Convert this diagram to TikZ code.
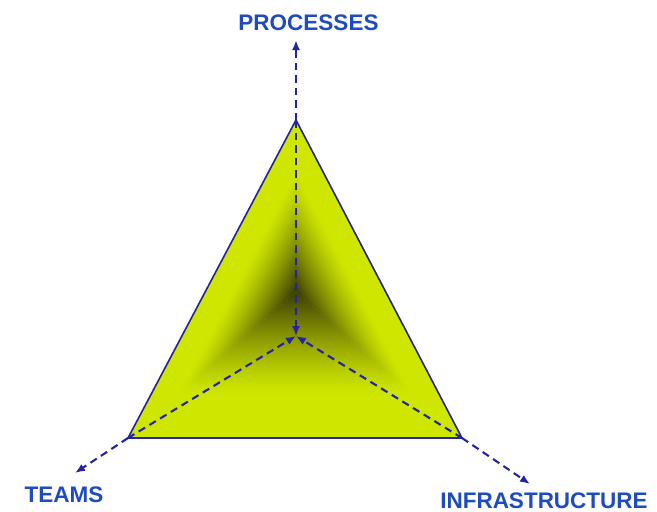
\documentclass[tikz,border=0pt]{standalone}
\usepackage{fontspec}
\setmainfont{Liberation Sans}
\usetikzlibrary{arrows.meta,calc}
\definecolor{bright}{RGB}{206,230,0}
\definecolor{darko}{RGB}{45,45,5}
\definecolor{lineblue}{RGB}{35,35,165}
\definecolor{textblue}{RGB}{30,75,190}
\begin{document}
\begin{tikzpicture}[x=1pt,y=-1pt,
  axisline/.style={lineblue, line width=2.1pt, dash pattern=on 7.5pt off 5pt, -{Latex[length=10pt,width=8pt]}},
  edgeline/.style={lineblue, line width=1.6pt, line join=miter},
  lbl/.style={text=textblue, font=\fontsize{22.5}{23}\selectfont\bfseries, inner sep=0pt, text height=16pt, text depth=0pt}]
\useasboundingbox (0,0) rectangle (657,512);
% vertices and points
\coordinate (T) at (296,120);
\coordinate (L) at (128,438);
\coordinate (R) at (462,438);
\coordinate (C) at (296,336);
\coordinate (P) at (296,292);
\coordinate (Tend) at (296,40);
\coordinate (Lend) at (75,473);
\coordinate (Rend) at (530,484);
% shaded facets
\foreach \A/\B in {T/L, L/R, R/T}{
  \foreach \i in {0,...,59}{
    \pgfmathsetmacro{\ta}{\i/60}
    \pgfmathsetmacro{\tb}{min((\i+1.5)/60,1)}
    \pgfmathsetmacro{\tm}{(\i+0.5)/60}
    \pgfmathsetmacro{\p}{92*(max(0,(\tm-0.3)/0.7))^1.3}
    \fill[darko!\p!bright] ($(\A)!\ta!(P)$) -- ($(\B)!\ta!(P)$) -- ($(\B)!\tb!(P)$) -- ($(\A)!\tb!(P)$) -- cycle;
  }
}
% outline
\draw[edgeline] (T) -- (L) -- (R) -- cycle;
% inner axes
\draw[axisline] (T) -- (C);
\draw[axisline] (L) -- (C);
\draw[axisline] (R) -- (C);
% outer axes
\draw[axisline] (T) -- (Tend);
\draw[axisline] (L) -- (Lend);
\draw[axisline] (R) -- (Rend);
% labels
\node[lbl] (proc) at (308.5,22.5) {PROCESSES};
\node[lbl] (teams) at (64,494.5) {TEAMS};
\node[lbl] (infra) at (544,500.5) {INFRASTRUCTURE};
\end{tikzpicture}
\end{document}
